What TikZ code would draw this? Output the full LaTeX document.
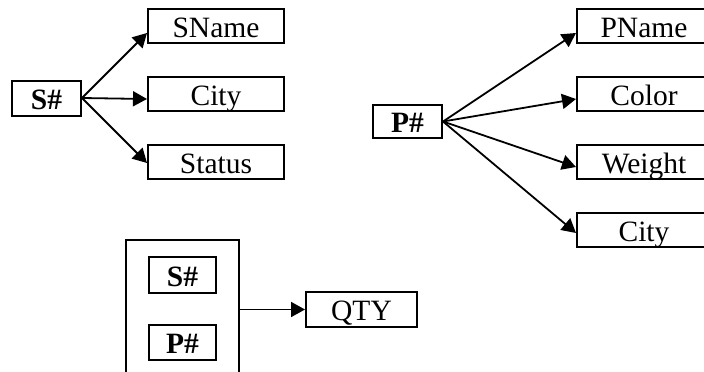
\documentclass[tikz,border=0pt]{standalone}
\usepackage{fontspec}
\setmainfont{Liberation Serif}
\usetikzlibrary{arrows.meta,positioning}

\begin{document}
\begin{tikzpicture}[x=1pt,y=-1pt,
    attr/.style={draw, line width=2pt, inner sep=0pt, minimum width=136pt, minimum height=34pt,
      text height=22.5pt, text depth=0pt, font=\fontsize{29.5}{30}\selectfont},
    keybox/.style={attr, minimum width=69pt, font=\fontsize{29.5}{30}\selectfont\bfseries},
    arr/.style={-{Triangle[length=14pt,width=15pt]}, line width=1.8pt}]
  \useasboundingbox (0,0) rectangle (704,372);
  \clip (0,0) rectangle (704,372);
  % supplier
  \node[keybox, minimum height=35pt] (sKey) at (46.5,98) {S\#};
  \foreach \t/\y/\d[count=\i] in {SName/26/-7, City/94/-5, Status/162/-1} {
    \node[attr] (s\i) at (216,\y) {\t};
    \draw[arr] (sKey.east) -- ([yshift=\d pt]s\i.west);
  }
  % part
  \node[keybox, minimum height=33pt] (pKey) at (407.5,121.5) {P\#};
  \foreach \t/\y/\d[count=\i] in {PName/26/-7, Color/94/-5, Weight/162/-5, City/230/-3} {
    \node[attr, minimum width=134pt] (p\i) at (644,\y) {\t};
    \draw[arr] (pKey.east) -- ([yshift=\d pt]p\i.west);
  }
  % shipment
  \node[draw, line width=2pt, minimum width=113pt, minimum height=170pt] (spKey) at (182.5,325) {};
  \node[keybox, minimum width=67pt, minimum height=36pt] (sKey2) at (182.5,275) {S\#};
  \node[keybox, minimum width=67pt, minimum height=35pt] (pKey2) at (182.5,342.5) {P\#};
  \node[attr, minimum width=111pt, minimum height=35pt] (qty) at (361.5,309.5) {QTY};
  \draw[arr] (spKey.east |- qty.west) -- (qty.west);
\end{tikzpicture}
\end{document}
